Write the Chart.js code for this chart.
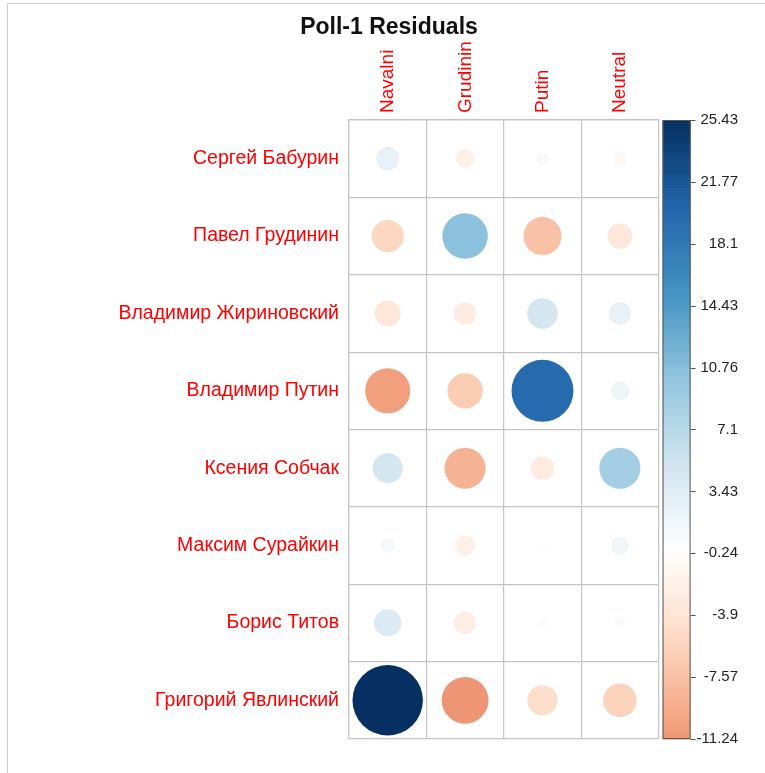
<!DOCTYPE html>
<html>
<head>
<meta charset="utf-8">
<title>Poll-1 Residuals</title>
<script src="https://cdn.jsdelivr.net/npm/chart.js@4/dist/chart.umd.min.js"></script>
<style>
  html, body { margin: 0; padding: 0; background: #ffffff; }
  canvas { display: block; }
</style>
</head>
<body>
<canvas id="chart" width="765" height="773"></canvas>
<script>
// Candidates (rows, top to bottom) and poll options (columns, left to right)
const candidates = [
  'Сергей Бабурин',
  'Павел Грудинин',
  'Владимир Жириновский',
  'Владимир Путин',
  'Ксения Собчак',
  'Максим Сурайкин',
  'Борис Титов',
  'Григорий Явлинский'
];
const pollOptions = ['Navalni', 'Grudinin', 'Putin', 'Neutral'];

// Pearson residuals per column, one value per candidate
const navalni  = [2.77, -5.36, -3.46, -10.46, 4.62, 1.13, 3.82, 25.43];
const grudinin = [-1.83, 10.6, -2.6, -6.41, -8.67, -2.09, -2.53, -11.24];
const putin    = [0.88, -7.44, 4.8, 19.67, -2.77, -0.28, 0.52, -4.71];
const neutral  = [-1.13, -3.19, 2.6, 1.83, 8.67, 1.7, 0.75, -5.8];

// Colour-bar range and tick labels
const barMin = -11.24;
const barMax = 25.43;
const barTicks = [-11.24, -7.57, -3.9, -0.24, 3.43, 7.1, 10.76, 14.43, 18.1, 21.77, 25.43];
const barLabels = ['-11.24', '-7.57', '-3.9', '-0.24', '3.43', '7.1', '10.76', '14.43', '18.1', '21.77', '25.43'];

// Diverging red-white-blue ramp (RdBu)
const ramp = ['#67001F', '#B2182B', '#D6604D', '#F4A582', '#FDDBC7', '#FFFFFF',
              '#D1E5F0', '#92C5DE', '#4393C3', '#2166AC', '#053061'];
const rampRGB = ramp.map(h => [1, 3, 5].map(i => parseInt(h.substr(i, 2), 16)));
const absMax = Math.max(Math.abs(barMin), Math.abs(barMax));

function colourFor(v) {
  // symmetric scaling around zero, 200 discrete steps
  let idx = Math.ceil((v / absMax + 1) * 100);
  idx = Math.min(200, Math.max(1, idx));
  const t = (idx - 1) / 199 * (ramp.length - 1);
  const i = Math.min(ramp.length - 2, Math.floor(t));
  const f = t - i;
  const a = rampRGB[i], b = rampRGB[i + 1];
  const c = a.map((x, k) => Math.round(x + (b[k] - x) * f));
  return `rgb(${c[0]},${c[1]},${c[2]})`;
}

const columns = [navalni, grudinin, putin, neutral];
const points = [];
candidates.forEach((name, r) => {
  pollOptions.forEach((opt, c) => {
    points.push({ x: opt, y: name, v: columns[c][r] });
  });
});

const FONT = "'Liberation Sans', Arial, sans-serif";
const GRID = '#c4c4c4';

function valueAt(ctx) {
  const p = ctx.chart.data.datasets[ctx.datasetIndex].data[ctx.dataIndex];
  return p ? p.v : 0;
}

// circle area proportional to |residual|, largest fills 91% of a cell
function circleRadius(ctx) {
  const xs = ctx.chart.scales.x;
  const cell = Math.abs(xs.getPixelForValue(1) - xs.getPixelForValue(0));
  const r = 0.455 * cell * Math.sqrt(Math.abs(valueAt(ctx)) / absMax);
  return isFinite(r) ? r : 0;
}

// thin frame along the top and left edge
const framePlugin = {
  id: 'frame',
  beforeDraw(chart) {
    const ctx = chart.ctx;
    ctx.save();
    ctx.strokeStyle = '#cccccc';
    ctx.lineWidth = 1;
    ctx.beginPath();
    ctx.moveTo(7.5, chart.height);
    ctx.lineTo(7.5, 3.5);
    ctx.lineTo(chart.width, 3.5);
    ctx.stroke();
    ctx.restore();
  }
};

// colour legend drawn along the right-hand scale
const colourBarPlugin = {
  id: 'colourBar',
  afterDraw(chart) {
    const s = chart.scales.bar;
    const ctx = chart.ctx;
    const x0 = chart.chartArea.right + 4;
    const w = 28;
    const top = s.getPixelForValue(barMax);
    const bot = s.getPixelForValue(barMin);
    const steps = 200;
    ctx.save();
    for (let i = 0; i < steps; i++) {
      const v0 = barMin + (barMax - barMin) * i / steps;
      const v1 = barMin + (barMax - barMin) * (i + 1) / steps;
      const y0 = s.getPixelForValue(v0);
      const y1 = s.getPixelForValue(v1);
      ctx.fillStyle = colourFor((v0 + v1) / 2);
      ctx.fillRect(x0, y1, w, y0 - y1 + 0.6);
    }
    ctx.strokeStyle = '#555555';
    ctx.lineWidth = 1;
    ctx.strokeRect(x0 + 0.5, top + 0.5, w - 1, bot - top - 1);
    ctx.beginPath();
    barTicks.forEach(v => {
      const y = Math.round(s.getPixelForValue(v)) + 0.5;
      ctx.moveTo(x0 + w, y);
      ctx.lineTo(x0 + w + 5, y);
    });
    ctx.stroke();
    ctx.restore();
  }
};

const noMargins = s => { s.paddingTop = 0; s.paddingBottom = 0; s.paddingLeft = 0; s.paddingRight = 0; };

new Chart(document.getElementById('chart'), {
  type: 'scatter',
  data: {
    datasets: [{
      xAxisID: 'x',
      yAxisID: 'y',
      data: points,
      showLine: false,
      pointBackgroundColor: ctx => colourFor(valueAt(ctx)),
      pointHoverBackgroundColor: ctx => colourFor(valueAt(ctx)),
      pointBorderWidth: 0,
      pointHoverBorderWidth: 0,
      pointRadius: circleRadius,
      pointHoverRadius: circleRadius
    }]
  },
  options: {
    responsive: false,
    animation: false,
    layout: { padding: { left: 40, right: 27, top: 0, bottom: 34 } },
    plugins: {
      legend: { display: false },
      tooltip: { enabled: false },
      title: {
        display: true,
        text: 'Poll-1 Residuals',
        color: '#111111',
        font: { family: FONT, size: 23, weight: 'bold', lineHeight: 26 / 23 },
        padding: { top: 15, bottom: 0 }
      }
    },
    scales: {
      x: {
        type: 'category',
        labels: pollOptions,
        position: 'top',
        offset: true,
        grid: { offset: true, color: GRID, lineWidth: 1.2, drawTicks: false },
        border: { color: GRID, width: 1.2 },
        ticks: {
          color: '#ff0000',
          font: { family: FONT, size: 19 },
          minRotation: 90,
          maxRotation: 90,
          padding: 7,
          labelOffset: 23,
          autoSkip: false
        },
        afterFit: s => { s.height = 79; noMargins(s); }
      },
      y: {
        type: 'category',
        labels: candidates,
        position: 'left',
        offset: true,
        grid: { offset: true, color: GRID, lineWidth: 1.2, drawTicks: false },
        border: { color: GRID, width: 1.2 },
        ticks: {
          color: '#ff0000',
          font: { family: FONT, size: 19.5 },
          padding: 10,
          autoSkip: false
        },
        afterFit: s => { s.width = 309; noMargins(s); }
      },
      bar: {
        type: 'linear',
        position: 'right',
        min: barMin,
        max: barMax,
        grid: { display: false, drawTicks: false },
        border: { display: false },
        afterBuildTicks: s => { s.ticks = barTicks.map(v => ({ value: v })); },
        afterFit: s => { noMargins(s); },
        ticks: {
          color: '#222222',
          font: { family: FONT, size: 15 },
          padding: 19,
          crossAlign: 'far',
          callback: (value, index) => barLabels[index]
        }
      }
    }
  },
  plugins: [framePlugin, colourBarPlugin]
});
</script>
</body>
</html>
